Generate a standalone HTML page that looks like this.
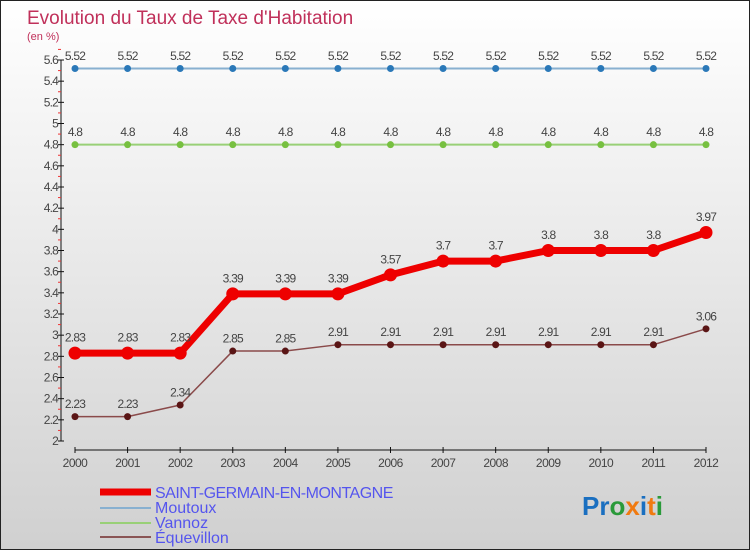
<!DOCTYPE html>
<html><head><meta charset="utf-8"><style>
body{margin:0}
#c{width:750px;height:550px;position:relative;overflow:hidden}
svg text{font-family:"Liberation Sans",sans-serif}
</style></head><body>
<div id="c">
<svg id="s" width="750" height="550" xmlns="http://www.w3.org/2000/svg">
<defs><linearGradient id="bg" x1="0" y1="0" x2="0" y2="1"><stop offset="0" stop-color="#ffffff"/><stop offset="1" stop-color="#d0d0d0"/></linearGradient></defs>
<rect x="0.5" y="0.5" width="749" height="549" fill="url(#bg)" stroke="#222"/>
<text x="27" y="24" font-size="19" fill="#c0305a">Evolution du Taux de Taxe d'Habitation</text>
<text x="27" y="40" font-size="11" fill="#c0305a">(en %)</text>
<g id="axes"></g><g id="series"></g>
<g>
<line x1="100" y1="492" x2="151" y2="492" stroke="#ee0000" stroke-width="7"/>
<text x="155" y="498" font-size="16" fill="#5555ee" letter-spacing="-0.5">SAINT-GERMAIN-EN-MONTAGNE</text>
<line x1="100" y1="508" x2="151" y2="508" stroke="#88b0d0" stroke-width="2"/>
<text x="155" y="513" font-size="16" fill="#5555ee">Moutoux</text>
<line x1="100" y1="523" x2="151" y2="523" stroke="#99d077" stroke-width="2"/>
<text x="155" y="528" font-size="16" fill="#5555ee">Vannoz</text>
<line x1="100" y1="537" x2="151" y2="537" stroke="#8a5555" stroke-width="2"/>
<text x="155" y="543" font-size="16" fill="#5555ee">Équevillon</text>
</g>
<g font-size="26" font-weight="bold">
<text x="582" y="515"><tspan fill="#1a6fc0">Pr</tspan><tspan fill="#2a9a3a">o</tspan><tspan fill="#f07a10">x</tspan><tspan fill="#1a6fc0">i</tspan><tspan fill="#f07a10">t</tspan><tspan fill="#2a9a3a">i</tspan></text>
</g>
</svg></div>
<script>
const years=[2000,2001,2002,2003,2004,2005,2006,2007,2008,2009,2010,2011,2012];
const saintGermain=[2.83,2.83,2.83,3.39,3.39,3.39,3.57,3.7,3.7,3.8,3.8,3.8,3.97];
const moutoux=[5.52,5.52,5.52,5.52,5.52,5.52,5.52,5.52,5.52,5.52,5.52,5.52,5.52];
const vannoz=[4.8,4.8,4.8,4.8,4.8,4.8,4.8,4.8,4.8,4.8,4.8,4.8,4.8];
const equevillon=[2.23,2.23,2.34,2.85,2.85,2.91,2.91,2.91,2.91,2.91,2.91,2.91,3.06];
const yTicks=[2,2.2,2.4,2.6,2.8,3,3.2,3.4,3.6,3.8,4,4.2,4.4,4.6,4.8,5,5.2,5.4,5.6];
const NS="http://www.w3.org/2000/svg";
const X=i=>75+i*(706-75)/(years.length-1);
const Y=v=>441-(v-2)*(381/3.6);
function mk(t,a,p){const e=document.createElementNS(NS,t);for(const k in a)e.setAttribute(k,a[k]);p.appendChild(e);return e;}
const ax=document.getElementById('axes');
let e=mk('line',{x1:61,y1:Y(5.6),x2:61,y2:Y(2),stroke:'#111','stroke-width':1},ax);


yTicks.forEach(v=>{
 mk('line',{x1:58,y1:Y(v),x2:64,y2:Y(v),stroke:'#111'},ax);
 mk('line',{x1:58,y1:Y(v+0.1),x2:61,y2:Y(v+0.1),stroke:'#e33'},ax);
 const t=mk('text',{x:58,y:Y(v)+4,'font-size':12,fill:'#444','text-anchor':'end','letter-spacing':'-0.8'},ax);
 t.textContent=String(v);
 
 
});
e=mk('line',{x1:X(0),y1:450,x2:X(years.length-1),y2:450,stroke:'#111'},ax);


years.forEach((y,i)=>{
 mk('line',{x1:X(i),y1:447,x2:X(i),y2:453,stroke:'#111'},ax);
 const t=mk('text',{x:X(i),y:467,'font-size':12,fill:'#444','text-anchor':'middle','letter-spacing':'-0.5'},ax);
 t.textContent=y;
 
 
});
const sg=document.getElementById('series');
function draw(vals,name,color,w,r,dot){
 const g=mk('g',{},sg);
 
 
 const l=mk('polyline',{points:vals.map((v,i)=>X(i)+','+Y(v)).join(' '),fill:'none',stroke:color,'stroke-width':w,'stroke-linejoin':'round'},g);
 
 
 vals.forEach((v,i)=>{
  const c=mk('circle',{cx:X(i),cy:Y(v),r:r,fill:dot},g);
  
  
  const t=mk('text',{x:X(i),y:Y(v)-r-5,'font-size':12,fill:'#444','text-anchor':'middle','letter-spacing':'-0.8'},g);
  t.textContent=String(v);
  
  
 });
}
draw(moutoux,'moutoux','#88b0d0',2,3.5,'#2a78b8');
draw(vannoz,'vannoz','#99d077',2,3.5,'#77c040');
draw(equevillon,'equevillon','#8a4a4a',1.5,3.5,'#5a1515');
draw(saintGermain,'saint-germain','#ee0000',7,6.5,'#ee0000');
</script>
</body></html>
